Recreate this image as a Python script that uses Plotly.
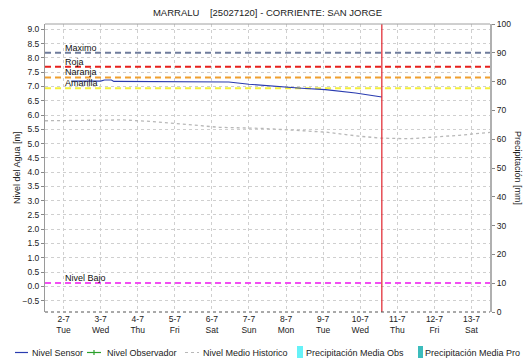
import plotly.graph_objects as go

# ---- data ----
day_ticks = ["2024-07-%02d" % d for d in range(2, 14)]
day_labels = ["2-7", "3-7", "4-7", "5-7", "6-7", "7-7", "8-7", "9-7", "10-7", "11-7", "12-7", "13-7"]
weekday_labels = ["Tue", "Wed", "Thu", "Fri", "Sat", "Sun", "Mon", "Tue", "Wed", "Thu", "Fri", "Sat"]

sensor_time = ["2024-07-02 05:00", "2024-07-03 00:00", "2024-07-03 02:30", "2024-07-03 07:00",
               "2024-07-03 08:30", "2024-07-06 07:00", "2024-07-06 11:00", "2024-07-07 00:00",
               "2024-07-07 17:30", "2024-07-08 10:00", "2024-07-09 01:30", "2024-07-09 21:00",
               "2024-07-10 14:00"]
sensor_level = [7.19, 7.19, 7.23, 7.23, 7.18, 7.18, 7.16, 7.08, 7.00, 6.94, 6.89, 6.77, 6.63]

historic_time = ["2024-07-01 12:00", "2024-07-02 23:00", "2024-07-03 14:00", "2024-07-04 07:30",
                 "2024-07-05 03:00", "2024-07-05 20:00", "2024-07-06 05:00", "2024-07-07 10:00",
                 "2024-07-08 04:00", "2024-07-09 02:00", "2024-07-09 23:00", "2024-07-10 14:00",
                 "2024-07-11 08:00", "2024-07-11 22:30", "2024-07-12 16:00", "2024-07-13 09:00",
                 "2024-07-13 12:00"]
historic_level = [5.80, 5.82, 5.83, 5.78, 5.70, 5.61, 5.57, 5.53, 5.46, 5.40, 5.26, 5.19,
                  5.17, 5.22, 5.29, 5.38, 5.39]

observer_time = []
observer_level = []
precip_obs = []
precip_pro = []

threshold_names = ["Maximo", "Roja", "Naranja", "Amarilla", "Nivel Bajo"]
threshold_values = [8.18, 7.69, 7.32, 6.94, 0.12]
threshold_colors = ["#6f7c9c", "#e8201c", "#f0a030", "#f4f03c", "#f24ef2"]

current_time = "2024-07-10 14:00"

x_start, x_end = "2024-07-01 12:00", "2024-07-13 12:00"

# ---- geometry ----
W, H = 530, 359
ML, MR, MT, MB = 45, 40, 24, 47
PW, PH = W - ML - MR, H - MT - MB
FONT = "Liberation Sans"


def px_x(px):
    return (px - ML) / PW


def px_y(py):
    return (H - MB - py) / PH


fig = go.Figure()

# threshold levels
for name, val, col in zip(threshold_names, threshold_values, threshold_colors):
    fig.add_trace(go.Scatter(x=[x_start, x_end], y=[val, val], mode="lines",
                             line=dict(color=col, width=2, dash="6px,4px"),
                             hoverinfo="skip", showlegend=False))
    fig.add_annotation(x=day_ticks[0], y=val, text=name, showarrow=False,
                       xanchor="left", yanchor="middle", yshift=5, xshift=-1,
                       font=dict(family=FONT, size=9, color="#111"))

# historic mean
fig.add_trace(go.Scatter(x=historic_time, y=historic_level, mode="lines",
                         line=dict(color="#b8b8b8", width=1.3, dash="dot"),
                         name="Nivel Medio Historico", showlegend=False))
# observer
fig.add_trace(go.Scatter(x=observer_time, y=observer_level, mode="lines+markers",
                         line=dict(color="#2ca02c", width=1), name="Nivel Observador",
                         showlegend=False))
# sensor
fig.add_trace(go.Scatter(x=sensor_time, y=sensor_level, mode="lines",
                         line=dict(color="#2a3cb0", width=1.1), name="Nivel Sensor",
                         showlegend=False))
# precipitation (right axis)
fig.add_trace(go.Bar(x=[], y=precip_obs, marker_color="#66f2f8", yaxis="y2",
                     name="Precipitación Media Obs", showlegend=False))
fig.add_trace(go.Bar(x=[], y=precip_pro, marker_color="#3cbcbc", yaxis="y2",
                     name="Precipitación Media Pro", showlegend=False))

# current time marker
fig.add_shape(type="line", xref="x", yref="paper", x0=current_time, x1=current_time,
              y0=0, y1=1, line=dict(color="#e0202a", width=1.2))

# bottom axis dotted line
fig.add_shape(type="line", xref="paper", yref="paper", x0=0, x1=1, y0=0, y1=0,
              line=dict(color="#555", width=1, dash="dot"))

# legend drawn along the bottom
ly = px_y(352.5)
legend_items = [
    ("line", 15, 28, "#2a3cb0", "solid", 30, "Nivel Sensor"),
    ("line", 87, 101, "#2ca02c", "solid", 105, "Nivel Observador"),
    ("line", 185, 199, "#b8b8b8", "dot", 201, "Nivel Medio Historico"),
    ("box", 297, 303, "#66f2f8", None, 304, "Precipitación Media Obs"),
    ("box", 418, 423, "#3cbcbc", None, 423, "Precipitación Media Pro"),
]
for kind, a, b, col, dash, tx, label in legend_items:
    if kind == "line":
        fig.add_shape(type="line", xref="paper", yref="paper", x0=px_x(a), x1=px_x(b),
                      y0=ly, y1=ly, line=dict(color=col, width=1.2, dash=dash))
    else:
        fig.add_shape(type="rect", xref="paper", yref="paper", x0=px_x(a), x1=px_x(b),
                      y0=px_y(358), y1=px_y(346), line=dict(width=0), fillcolor=col)
    fig.add_annotation(xref="paper", yref="paper", x=px_x(tx), y=ly, text=label,
                       showarrow=False, xanchor="left", yanchor="middle",
                       font=dict(family=FONT, size=9, color="#222"))
# observer marker cross
fig.add_shape(type="line", xref="paper", yref="paper", x0=px_x(94), x1=px_x(94),
              y0=px_y(350), y1=px_y(355), line=dict(color="#2ca02c", width=1.2))

# axis titles
fig.add_annotation(xref="paper", yref="paper", x=px_x(17), y=0.5, text="Nivel del Agua [m]",
                   textangle=-90, showarrow=False, xanchor="center", yanchor="middle",
                   font=dict(family=FONT, size=9, color="#222"))
fig.add_annotation(xref="paper", yref="paper", x=px_x(518), y=0.5, text="Precipitación [mm]",
                   textangle=90, showarrow=False, xanchor="center", yanchor="middle",
                   font=dict(family=FONT, size=9, color="#222"))

fig.update_layout(
    width=W, height=H,
    margin=dict(l=ML, r=MR, t=MT, b=MB, pad=0),
    paper_bgcolor="white", plot_bgcolor="white",
    showlegend=False,
    font=dict(family=FONT, size=8, color="#222"),
    title=dict(text="MARRALU&nbsp;&nbsp;&nbsp;&nbsp;[25027120] - CORRIENTE: SAN JORGE",
               x=(ML + PW / 2) / W, xanchor="center", y=1 - 13 / H, yanchor="middle",
               font=dict(family=FONT, size=9.5, color="#222")),
    xaxis=dict(type="date", range=[x_start, x_end],
               tickvals=day_ticks,
               ticktext=[f"{d}<br>{w}" for d, w in zip(day_labels, weekday_labels)],
               showgrid=True, gridcolor="#cfcfcf", griddash="dot", gridwidth=1,
               ticks="", showline=False, zeroline=False,
               tickfont=dict(family=FONT, size=8.5, color="#222"),
               mirror=False),
    yaxis=dict(range=[-0.9, 9.19], tickvals=[v / 2 for v in range(-1, 19)],
               tickformat=".1f", showgrid=True, gridcolor="#cfcfcf", griddash="dot",
               gridwidth=1, zeroline=False, ticks="outside", ticklen=3, tickcolor="#888",
               showline=True, linecolor="#9a9a9a", linewidth=1,
               tickfont=dict(family=FONT, size=8.5, color="#222")),
    yaxis2=dict(range=[0, 100], overlaying="y", side="right", tickvals=list(range(0, 101, 10)),
                showgrid=False, zeroline=False, ticks="outside", ticklen=3, tickcolor="#888",
                showline=True, linecolor="#b0b0b0", linewidth=2,
                tickfont=dict(family=FONT, size=8.5, color="#222")),
)

# top border
fig.add_shape(type="line", xref="paper", yref="paper", x0=0, x1=1, y0=1, y1=1,
              line=dict(color="#a0a0a0", width=1))

fig.write_html("out.html")
